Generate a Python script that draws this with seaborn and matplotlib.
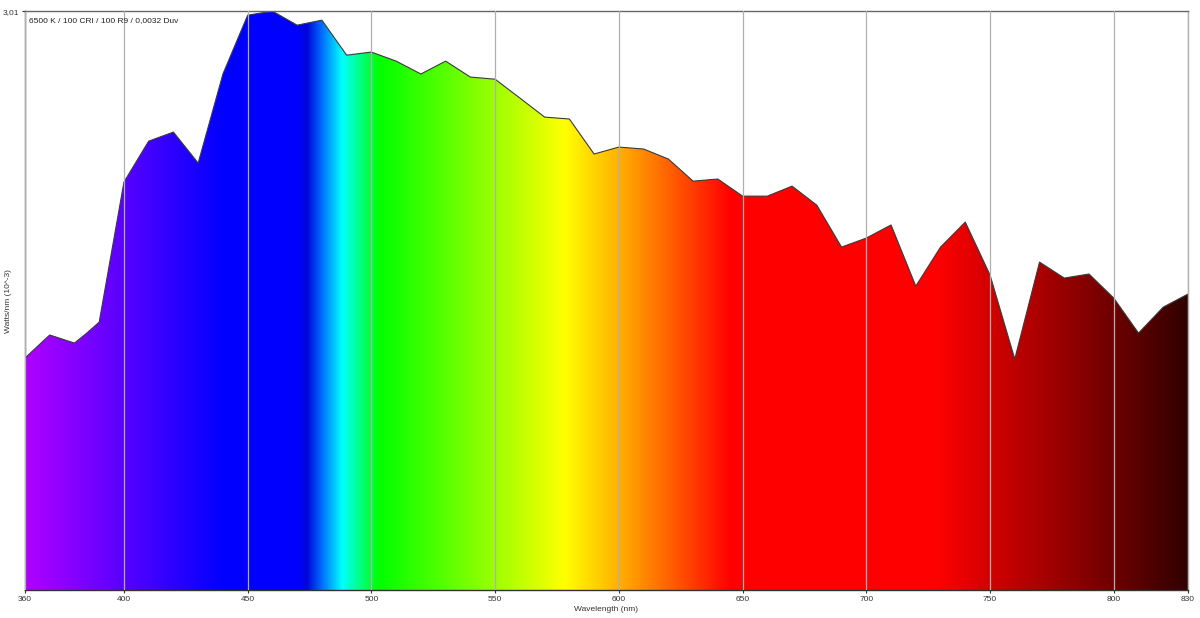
import numpy as np
import pandas as pd
import seaborn as sns
import matplotlib.pyplot as plt
from matplotlib.colors import LinearSegmentedColormap

# spectral power distribution (Watts/nm, 10^-3)
wavelength = [360, 370, 380, 385, 390, 400, 410, 420, 430, 440, 450, 460, 470, 480,
              490, 500, 510, 520, 530, 540, 550, 560, 570, 580, 590, 600, 610, 620,
              630, 640, 650, 660, 670, 680, 690, 700, 710, 720, 730, 740, 750, 760,
              770, 780, 790, 800, 810, 820, 830]
power = [1.206, 1.326, 1.284, 1.336, 1.393, 2.121, 2.334, 2.381, 2.220, 2.683, 2.989,
         3.010, 2.937, 2.963, 2.781, 2.797, 2.750, 2.683, 2.750, 2.667, 2.656, 2.558,
         2.459, 2.449, 2.267, 2.303, 2.293, 2.241, 2.126, 2.137, 2.048, 2.048, 2.100,
         2.001, 1.783, 1.830, 1.898, 1.580, 1.783, 1.913, 1.638, 1.201, 1.705, 1.622,
         1.643, 1.518, 1.336, 1.471, 1.539]

x_ticks = [360, 400, 450, 500, 550, 600, 650, 700, 750, 800, 830]
y_max = 3.01
title = "6500 K / 100 CRI / 100 R9 / 0,0032 Duv"

# colour stops of the rainbow fill (nm, colour)
stop_nm = [360, 440, 470, 474, 480, 488, 503, 543, 578, 600, 645, 728, 830]
stop_col = ["#B000FF", "#0000FF", "#0000FF", "#0008D8", "#0070FF", "#00FFFF", "#00FF00",
            "#85FF00", "#FFFF00", "#FFB000", "#FF0000", "#FF0000", "#300000"]

sns.set_theme(style="white")
plt.rcParams["font.family"] = ["Liberation Sans", "DejaVu Sans"]

df = pd.DataFrame({"Wavelength (nm)": wavelength, "power": power})

fig = plt.figure(figsize=(12, 6.18), dpi=100)
ax = fig.add_axes([0.0208, 0.0453, 0.9692, 0.9367])

# gradient image clipped to the area under the curve
cmap = LinearSegmentedColormap.from_list(
    "spectrum",
    [((w - stop_nm[0]) / (stop_nm[-1] - stop_nm[0]), c) for w, c in zip(stop_nm, stop_col)],
    N=4096)
grad = np.linspace(0, 1, 2400)[None, :]
im = ax.imshow(grad, cmap=cmap, extent=[wavelength[0], wavelength[-1], 0, y_max],
               aspect="auto", origin="lower", zorder=1, interpolation="bilinear")
area = ax.fill_between(df["Wavelength (nm)"], df["power"], 0, color="none", lw=0)
im.set_clip_path(area.get_paths()[0], transform=ax.transData)

sns.lineplot(data=df, x="Wavelength (nm)", y="power", ax=ax,
             color="#3a3a3a", lw=0.8, zorder=2)

ax.set_xlim(wavelength[0], wavelength[-1])
ax.set_ylim(0, y_max)
ax.set_xticks(x_ticks)
ax.set_xticklabels([str(t) for t in x_ticks])
ax.set_yticks([y_max])
ax.set_yticklabels(["3,01"])

ax.set_axisbelow(False)
ax.xaxis.grid(True, color="#b0b0b0", lw=0.9)
ax.yaxis.grid(False)

ax.tick_params(axis="both", direction="out", length=2.5, width=0.8,
               colors="#333333", labelsize=6, pad=2, bottom=True, left=True)
ax.set_xlabel("Wavelength (nm)", fontsize=6, color="#333333", labelpad=2)
ax.set_ylabel("Watts/nm (10^-3)", fontsize=6, color="#333333")
ax.yaxis.set_label_coords(-0.011, 0.5)

for side, col in [("left", "#555555"), ("bottom", "#333333"),
                  ("top", "#666666"), ("right", "#b0b0b0")]:
    ax.spines[side].set_visible(True)
    ax.spines[side].set_color(col)
    ax.spines[side].set_linewidth(1)

ax.text(0.0035, 0.984, title, transform=ax.transAxes, fontsize=6,
        color="#222222", va="center", ha="left", zorder=5)

fig.savefig("out.png", dpi=100)
